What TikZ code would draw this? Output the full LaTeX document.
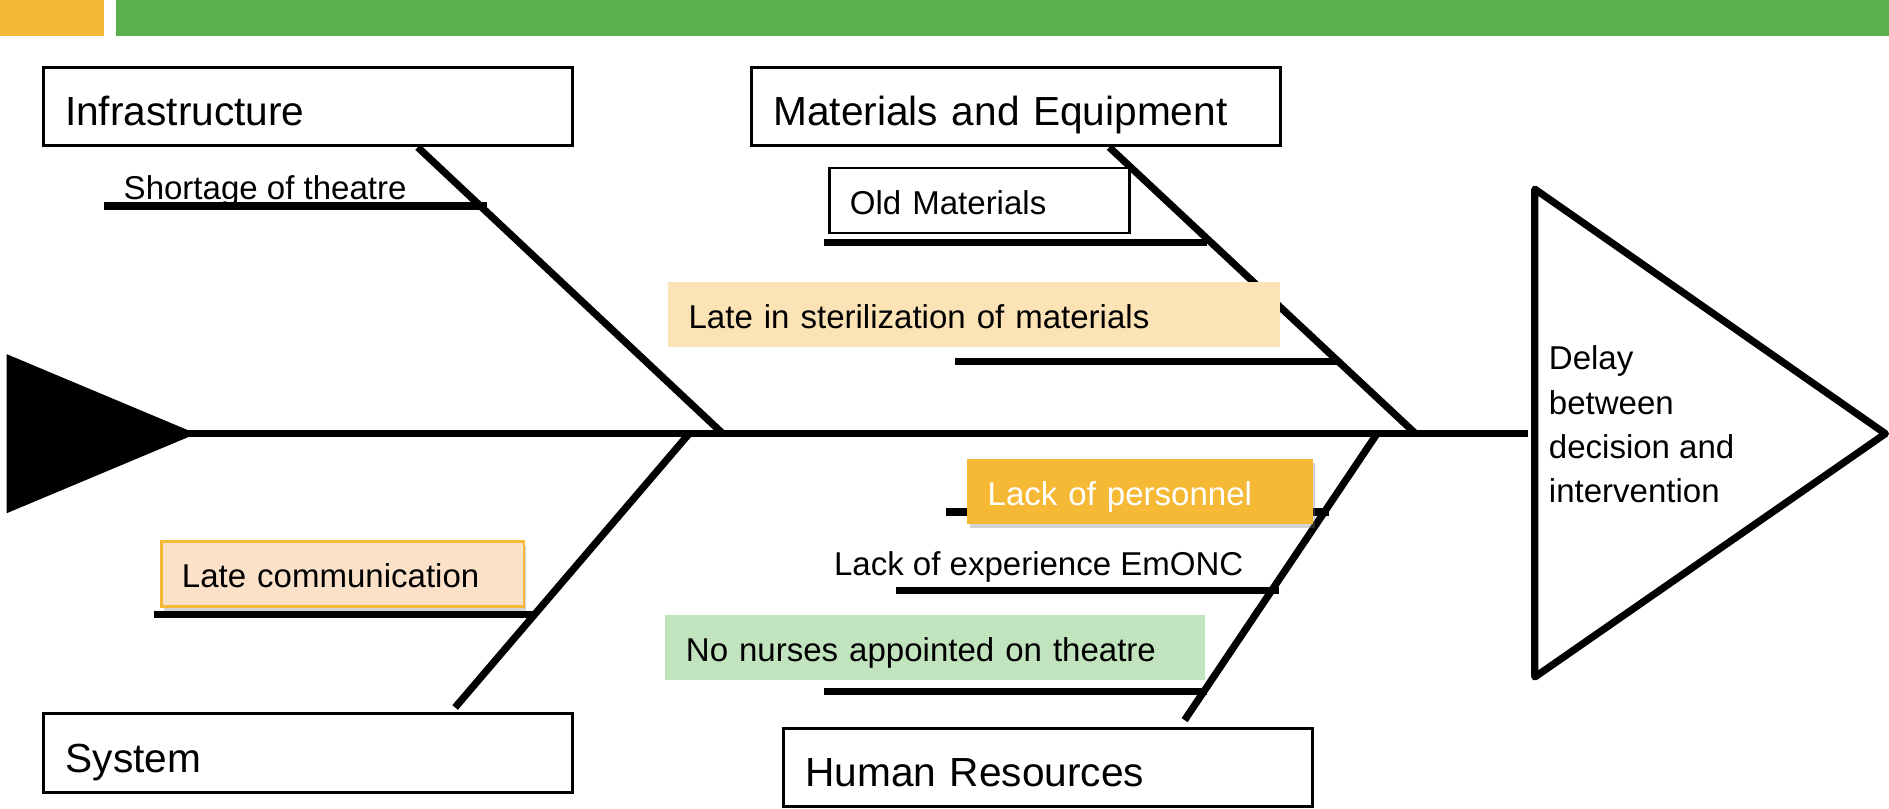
\documentclass[tikz,border=0pt]{standalone}
\usepackage{fontspec}
\setmainfont{Liberation Sans}
\usepackage{xcolor}
\usetikzlibrary{shadows}
\definecolor{barorange}{HTML}{F5B935}
\definecolor{bargreen}{HTML}{5BB14C}
\definecolor{sterfill}{HTML}{FBE3B6}
\definecolor{commfill}{HTML}{FCE1C9}
\definecolor{nursefill}{HTML}{C1E4BE}
\tikzset{
  bone/.style={draw=black, line width=1.7pt},
  rib/.style={draw=black, line width=1.7pt},
  category/.style={
    draw=black,
    fill=white,
    line width=0.7pt,
    minimum width=4.39cm,
    minimum height=0.65cm,
    text width=4.03cm,
    align=left,
    inner xsep=0.18cm,
    text height=0.32cm,
    text depth=0pt,
    font=\fontsize{9.6}{11.5}\selectfont
  },
  cause/.style={
    minimum height=0.54cm,
    align=left,
    inner xsep=0.17cm,
    text height=0.23cm,
    text depth=0pt,
    font=\fontsize{7.8}{9.4}\selectfont
  },
  causelabel/.style={font=\fontsize{7.8}{9.4}\selectfont, inner sep=0pt, anchor=base west},
  boxshadow/.style={drop shadow={shadow xshift=0.02cm, shadow yshift=-0.04cm, opacity=0.35}}
}

\begin{document}
\begin{tikzpicture}
  \useasboundingbox (0,0) rectangle (15.68,-6.71);
  % header bars
  \fill[barorange] (0,0) rectangle (0.86,-0.30);
  \fill[bargreen] (0.96,0) rectangle (15.68,-0.30);

  % tail, spine and head of the fish
  \fill (0.056,-2.94) -- (1.63,-3.60) -- (0.056,-4.26) -- cycle;
  \coordinate (tail) at (1.55,-3.60);
  \coordinate (head) at (12.68,-3.60);
  \draw[bone] (tail) -- (head);
  \draw[bone, line join=round] (12.74,-1.57) -- (15.65,-3.60) -- (12.74,-5.62) -- cycle;
  \node[font=\fontsize{7.8}{10.44}\selectfont, align=left, inner sep=0pt, anchor=north west]
    (Effect) at (12.85,-2.865) {Delay\\between\\decision and\\intervention};

  \coordinate (jInfra) at (6.00,-3.60);
  \coordinate (jMatl) at (11.75,-3.60);
  \coordinate (jSys) at (5.72,-3.60);
  \coordinate (jHR) at (11.43,-3.60);

  \node[category] (Infra) at (2.555,-0.885) {Infrastructure};
  \node[category] (Matl) at (8.435,-0.885) {Materials and Equipment};
  \node[category] (Sys) at (2.56,-6.25) {System};
  \node[category] (HR) at (8.70,-6.37) {Human Resources};

  \draw[bone] (Infra.south west) ++(3.12,0) -- (jInfra);
  \draw[bone] (Matl.south west) ++(2.98,0) -- (jMatl);
  \draw[bone] (Sys.north west) ++(3.425,0.04) -- (jSys);
  \draw[bone] (HR.north west) ++(3.34,0.055) -- (jHR);

  % one rib per cause
  \foreach \x/\y in {0.86/1.71, 6.84/2.01, 7.93/3.00, 7.85/4.25, 7.44/4.90, 6.84/5.74, 1.28/5.10}
    \draw[rib] (\x,-\y) -- ++(3.18,0);

  \node[causelabel] (Short) at (1.02,-1.66) {Shortage of theatre};
  \node[cause, draw=black, fill=white, line width=0.55pt, text width=2.15cm] (Old) at (8.13,-1.664) {Old Materials};
  \node[cause, fill=sterfill, text width=4.74cm] (Steril) at (8.086,-2.611) {Late in sterilization of materials};
  \node[cause, fill=barorange, text=white, text width=2.527cm, boxshadow] (Pers) at (9.4615,-4.077) {Lack of personnel};
  \node[causelabel] (Exp) at (6.916,-4.78) {Lack of experience EmONC};
  \node[cause, fill=nursefill, text width=4.137cm] (Nurse) at (7.762,-5.375) {No nurses appointed on theatre};
  \node[cause, draw=barorange, fill=commfill, line width=0.6pt, text width=2.67cm, boxshadow] (Comm) at (2.845,-4.763) {Late communication};
\end{tikzpicture}
\end{document}
